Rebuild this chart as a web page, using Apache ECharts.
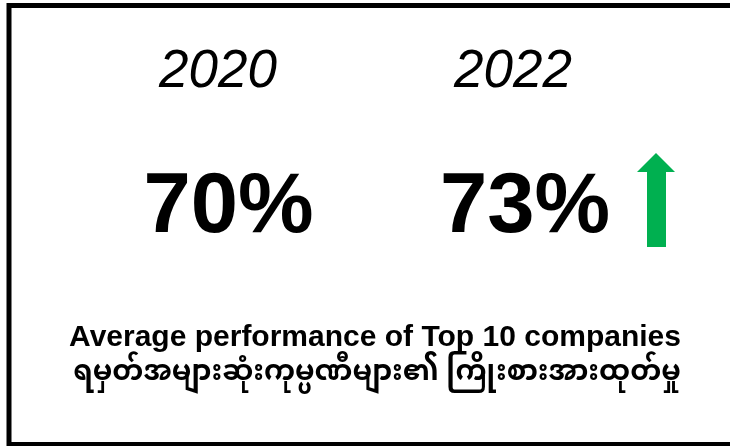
<!DOCTYPE html>
<html>
<head>
<meta charset="utf-8">
<script src="https://cdn.jsdelivr.net/npm/echarts@6/dist/echarts.min.js"></script>
<style>
html,body{margin:0;padding:0;background:#fff;}
#chart{width:730px;height:446px;}
</style>
</head>
<body>
<div id="chart"></div>
<script>
// Data
const years = ['2020', '2022'];
const values = [70, 73];
const captionEn = 'Average performance of Top 10 companies';
const captionMy = 'ရမှတ်အများဆုံးကုမ္ပဏီများ၏ ကြိုးစားအားထုတ်မှု';

const chart = echarts.init(document.getElementById('chart'));
const centersYear = [218, 513];
const centersValue = [228.5, 525];
const graphics = [
  {type: 'rect', shape: {x: 9, y: 5.5, width: 760, height: 439},
   style: {fill: '#fff', stroke: '#000', lineWidth: 5}}
];
years.forEach((y, i) => {
  graphics.push({type: 'text', x: centersYear[i], y: 72,
    style: {text: y, fill: '#000', font: 'italic 53px "Liberation Sans", Arial, sans-serif',
      textAlign: 'center', textVerticalAlign: 'middle'}});
  graphics.push({type: 'text', x: centersValue[i], y: 209,
    style: {text: values[i] + '%', fill: '#000', font: 'bold 85px "Liberation Sans", Arial, sans-serif',
      textAlign: 'center', textVerticalAlign: 'middle'}});
});
// trend arrow (up since values[1] > values[0])
if (values[1] > values[0]) {
  graphics.push({type: 'polygon',
    shape: {points: [[656,153],[675,172],[666,172],[666,247],[647,247],[647,172],[637,172]]},
    style: {fill: '#00B050'}});
}
graphics.push({type: 'text', x: 375, y: 338,
  style: {text: captionEn, fill: '#000', font: 'bold 30px "Liberation Sans", Arial, sans-serif',
    textAlign: 'center', textVerticalAlign: 'middle'}});
graphics.push({type: 'text', x: 377, y: 377,
  style: {text: captionMy, fill: '#000', font: 'bold 28px "Noto Sans Myanmar", "Myanmar Text", Padauk, "Noto Sans", sans-serif',
    textAlign: 'center', textVerticalAlign: 'middle'}});

chart.setOption({
  animation: false,
  backgroundColor: '#fff',
  graphic: {elements: graphics}
});
</script>
</body>
</html>
